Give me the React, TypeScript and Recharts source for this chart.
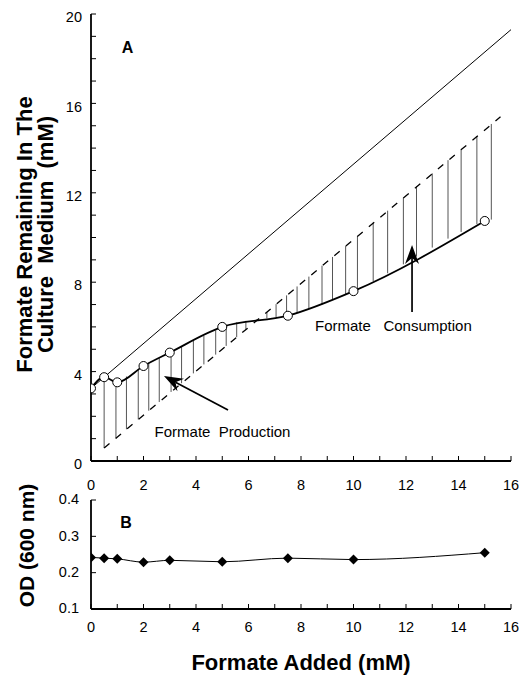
import { ComposedChart, Line, XAxis, YAxis, ReferenceLine, ReferenceDot } from "recharts";

const FONT = "'Liberation Sans', Arial, Helvetica, sans-serif";

// panel A: formate remaining vs formate added
const formateAdded = [0, 0.5, 1, 2, 3, 5, 7.5, 10, 15];
const formateRemaining = [3.25, 3.75, 3.52, 4.25, 4.85, 6.0, 6.5, 7.6, 10.74];
const noConsumptionX = [0, 16];
const noConsumptionY = [3.25, 19.3];
const addedOnlyX = [0.5, 15.6];
const addedOnlyY = [0.58, 15.4];

// hatch between the dashed line and the measured curve
const hatchX = [0.5, 0.95, 1.35, 1.8, 2.2, 2.6, 3.05, 3.45, 3.9, 4.3, 4.75, 5.15, 5.55, 5.9, 6.3, 6.7, 7.05, 7.45, 7.85, 8.3, 8.8, 9.2, 9.7, 10.15, 10.75, 11.3, 11.9, 12.4, 13.0, 13.6, 14.1, 14.7, 15.25];
const hatchLow = [0.58, 1.02, 1.42, 1.86, 2.25, 2.64, 3.09, 3.48, 3.92, 4.32, 4.76, 5.15, 5.54, 5.89, 6.28, 6.67, 7.02, 7.41, 7.81, 8.25, 8.74, 9.13, 9.62, 10.07, 10.66, 11.2, 11.79, 12.28, 12.87, 13.46, 13.95, 14.54, 15.08];
const hatchHigh = [3.55, 3.53, 3.78, 4.1, 4.37, 4.6, 4.88, 5.12, 5.38, 5.6, 5.85, 6.07, 6.2, 6.27, 6.33, 6.38, 6.43, 6.5, 6.62, 6.8, 7.0, 7.2, 7.45, 7.68, 8.05, 8.4, 8.8, 9.15, 9.55, 9.95, 10.25, 10.6, 10.8];

// panel B: OD 600
const odValues = [0.242, 0.24, 0.238, 0.229, 0.234, 0.23, 0.24, 0.236, 0.255];

const xTicks = [0, 1, 2, 3, 4, 5, 6, 7, 8, 9, 10, 11, 12, 13, 14, 15, 16];
const yTicksA = [0, 1, 2, 3, 4, 5, 6, 7, 8, 9, 10, 11, 12, 13, 14, 15, 16, 17, 18, 19, 20];
const yTicksB = [0.1, 0.2, 0.3, 0.4];

const W = 519;
const TL = 5;

const isEvery = (v: number, n: number) => Math.abs(v / n - Math.round(v / n)) < 1e-6;

function BottomTick(props: any) {
  const { x, y, payload, gap, every } = props;
  const v = payload.value;
  return (
    <g>
      <line x1={x} y1={y} x2={x} y2={y - TL} stroke="#000" strokeWidth={1} />
      {isEvery(v, every) && (
        <text x={x} y={y + gap} dy="0.71em" textAnchor="middle" fontFamily={FONT} fontSize={14.5} fill="#000">
          {v}
        </text>
      )}
    </g>
  );
}

function LeftTick(props: any) {
  const { x, y, payload, gap, every, shift, fmt } = props;
  const v = payload.value;
  return (
    <g>
      <line x1={x} y1={y} x2={x + TL} y2={y} stroke="#000" strokeWidth={1} />
      {isEvery(v, every) && (
        <text x={x - gap} y={y + shift} dy="0.36em" textAnchor="end" fontFamily={FONT} fontSize={14.5} fill="#000">
          {fmt ? fmt(v) : v}
        </text>
      )}
    </g>
  );
}

const TopTick = (props: any) => (
  <line x1={props.x} y1={props.y} x2={props.x} y2={props.y + TL} stroke="#000" strokeWidth={1} />
);
const RightTick = (props: any) => (
  <line x1={props.x} y1={props.y} x2={props.x - TL} y2={props.y} stroke="#000" strokeWidth={1} />
);

function ArrowShape(props: any) {
  const { x1, y1, x2, y2 } = props;
  const a = Math.atan2(y2 - y1, x2 - x1);
  const len = 19, half = 7, notch = 13;
  const ux = Math.cos(a), uy = Math.sin(a);
  const bx = x2 - ux * len, by = y2 - uy * len;
  const nx = x2 - ux * notch, ny = y2 - uy * notch;
  const pts = `${x2},${y2} ${bx - uy * half},${by + ux * half} ${nx},${ny} ${bx + uy * half},${by - ux * half}`;
  return (
    <g>
      <line x1={x1} y1={y1} x2={nx} y2={ny} stroke="#000" strokeWidth={1.7} />
      <polygon points={pts} fill="#000" />
    </g>
  );
}

const textShape = (txt: string, size: number, bold: boolean) => (p: any) => (
  <text x={p.cx} y={p.cy} dy="0.36em" textAnchor="middle" fontFamily={FONT} fontSize={size}
    fontWeight={bold ? "bold" : "normal"} fill="#000" style={{ whiteSpace: "pre" }}>
    {txt}
  </text>
);

function TitleA({ viewBox }: any) {
  const cy = viewBox.y + viewBox.height / 2 - 3;
  return (
    <g transform={`translate(0, ${cy}) rotate(-90)`}>
      <text x={0} y={32} textAnchor="middle" fontFamily={FONT} fontSize={22} fontWeight="bold" fill="#000" style={{ whiteSpace: "pre" }}>
        Formate Remaining In The
      </text>
      <text x={0} y={53} textAnchor="middle" fontFamily={FONT} fontSize={22} fontWeight="bold" fill="#000" style={{ whiteSpace: "pre" }}>
        {"Culture  Medium  (mM)"}
      </text>
    </g>
  );
}

function TitleB({ viewBox }: any) {
  const cy = viewBox.y + viewBox.height / 2 - 9;
  return (
    <g transform={`translate(0, ${cy}) rotate(-90)`}>
      <text x={0} y={34} textAnchor="middle" fontFamily={FONT} fontSize={21} fontWeight="bold" fill="#000">
        OD (600 nm)
      </text>
    </g>
  );
}

function TitleX({ viewBox }: any) {
  return (
    <text x={viewBox.x + viewBox.width / 2} y={viewBox.y + 61} textAnchor="middle" fontFamily={FONT} fontSize={22} fontWeight="bold" fill="#000">
      Formate Added (mM)
    </text>
  );
}

export default function App() {
  const measured = formateAdded.map((x, i) => ({ x, y: formateRemaining[i] }));
  const theory = noConsumptionX.map((x, i) => ({ x, y: noConsumptionY[i] }));
  const added = addedOnlyX.map((x, i) => ({ x, y: addedOnlyY[i] }));
  const od = formateAdded.map((x, i) => ({ x, y: odValues[i] }));
  const axisLine = { stroke: "#000", strokeWidth: 1.8 };

  return (
    <div style={{ position: "absolute", left: 0, top: 0, width: W, height: 675, background: "#fff" }}>
      <div style={{ position: "absolute", left: 0, top: 0 }}>
        <ComposedChart width={W} height={500} margin={{ top: 14, right: 8, bottom: 0, left: 0 }}>
          <XAxis xAxisId={0} dataKey="x" type="number" domain={[0, 16]} allowDataOverflow ticks={xTicks} interval={0}
            height={39} tickSize={0} tickMargin={0} tickLine={false} axisLine={axisLine}
            tick={(p: any) => <BottomTick {...p} gap={19} every={2} />} />
          <XAxis xAxisId="top" orientation="top" dataKey="x" type="number" domain={[0, 16]} allowDataOverflow ticks={xTicks} interval={0}
            height={0} tickSize={0} tickMargin={0} tickLine={false} axisLine={axisLine} tick={TopTick} />
          <YAxis yAxisId={0} type="number" domain={[0, 20]} allowDataOverflow ticks={yTicksA} interval={0}
            width={91} tickSize={0} tickMargin={0} tickLine={false} axisLine={axisLine}
            tick={(p: any) => <LeftTick {...p} gap={9} every={4} shift={3} />}
            label={{ content: TitleA }} />
          <YAxis yAxisId="right" orientation="right" type="number" domain={[0, 20]} allowDataOverflow ticks={yTicksA} interval={0}
            width={0} tickSize={0} tickMargin={0} tickLine={false} axisLine={axisLine} tick={RightTick} />

          {hatchX.map((hx, i) => (
            <ReferenceLine key={"h" + i} segment={[{ x: hx, y: hatchLow[i] }, { x: hx, y: hatchHigh[i] }]}
              stroke="#555" strokeWidth={1} />
          ))}

          <Line data={theory} dataKey="y" type="linear" stroke="#000" strokeWidth={1} dot={false} isAnimationActive={false} />
          <Line data={added} dataKey="y" type="linear" stroke="#000" strokeWidth={1.3} strokeDasharray="7 8" dot={false} isAnimationActive={false} />
          <Line data={measured} dataKey="y" type="monotone" stroke="#000" strokeWidth={1.8}
            dot={{ r: 4.5, fill: "#fff", stroke: "#000", strokeWidth: 1 }} isAnimationActive={false} />

          <ReferenceLine segment={[{ x: 5.22, y: 2.28 }, { x: 2.78, y: 3.8 }]} shape={ArrowShape} />
          <ReferenceLine segment={[{ x: 12.23, y: 6.67 }, { x: 12.23, y: 9.66 }]} shape={ArrowShape} />
          <ReferenceDot x={5.01} y={1.3} r={0} shape={textShape("Formate  Production", 15, false)} />
          <ReferenceDot x={11.52} y={6.04} r={0} shape={textShape("Formate   Consumption", 15, false)} />
          <ReferenceDot x={1.39} y={18.5} r={0} shape={textShape("A", 16, true)} />
        </ComposedChart>
      </div>

      <div style={{ position: "absolute", left: 0, top: 470 }}>
        <ComposedChart width={W} height={205} margin={{ top: 30, right: 8, bottom: 0, left: 0 }}>
          <XAxis xAxisId={0} dataKey="x" type="number" domain={[0, 16]} allowDataOverflow ticks={xTicks} interval={0}
            height={66} tickSize={0} tickMargin={0} tickLine={false} axisLine={axisLine}
            tick={(p: any) => <BottomTick {...p} gap={13} every={2} />}
            label={{ content: TitleX }} />
          <XAxis xAxisId="top" orientation="top" dataKey="x" type="number" domain={[0, 16]} allowDataOverflow ticks={xTicks} interval={0}
            height={0} tickSize={0} tickMargin={0} tickLine={false} axisLine={axisLine} tick={TopTick} />
          <YAxis yAxisId={0} type="number" domain={[0.1, 0.4]} allowDataOverflow ticks={yTicksB} interval={0}
            width={91} tickSize={0} tickMargin={0} tickLine={false} axisLine={axisLine}
            tick={(p: any) => <LeftTick {...p} gap={12} every={0.1} shift={-1} fmt={(v: number) => v.toFixed(1)} />}
            label={{ content: TitleB }} />
          <YAxis yAxisId="right" orientation="right" type="number" domain={[0.1, 0.4]} allowDataOverflow ticks={yTicksB} interval={0}
            width={0} tickSize={0} tickMargin={0} tickLine={false} axisLine={axisLine} tick={RightTick} />

          <Line data={od} dataKey="y" type="monotone" stroke="#000" strokeWidth={1}
            dot={(p: any) => (
              <polygon key={"d" + p.index}
                points={`${p.cx},${p.cy - 5} ${p.cx + 5},${p.cy} ${p.cx},${p.cy + 5} ${p.cx - 5},${p.cy}`} fill="#000" />
            )}
            isAnimationActive={false} />
          <ReferenceDot x={1.33} y={0.339} r={0} shape={textShape("B", 16, true)} />
        </ComposedChart>
      </div>
    </div>
  );
}
